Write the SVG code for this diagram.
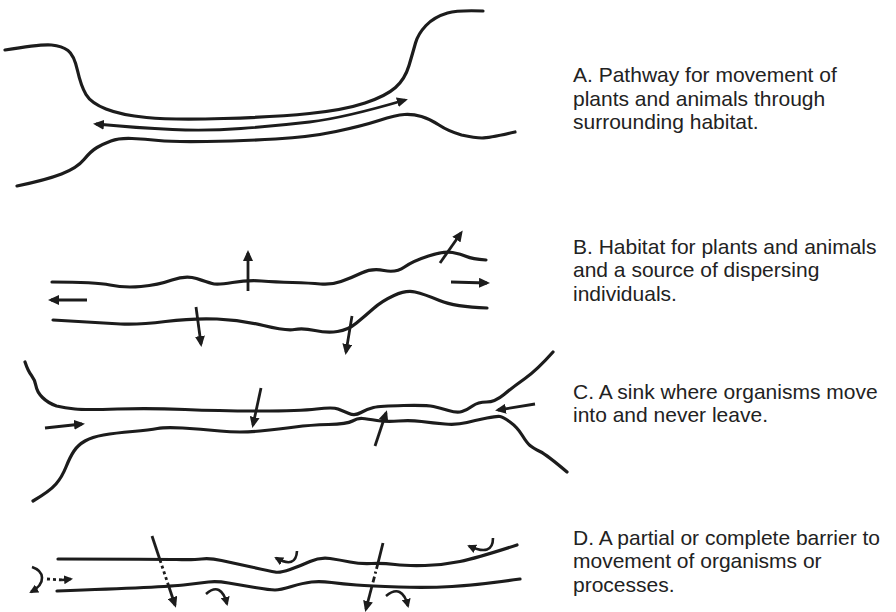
<svg xmlns="http://www.w3.org/2000/svg" width="896" height="612" viewBox="0 0 896 612">
<defs>
<style>
.c{fill:none;stroke:#1c1c1c;stroke-width:3.2;stroke-linecap:round;stroke-linejoin:round}
.a{fill:none;stroke:#1c1c1c;stroke-width:2.8;stroke-linecap:butt;marker-end:url(#h)}
.u{fill:none;stroke:#1c1c1c;stroke-width:2.6;stroke-linecap:butt;marker-end:url(#hs)}
.s{fill:none;stroke:#1c1c1c;stroke-width:2.8;stroke-linecap:butt}
.t{font-family:"Liberation Sans",Arial,sans-serif;font-size:21px;fill:#222}
</style>
<marker id="h" markerUnits="userSpaceOnUse" markerWidth="12" markerHeight="10" refX="8" refY="5" orient="auto-start-reverse"><path d="M0,0 L11,5 L0,10 Z" fill="#1c1c1c"/></marker>
<marker id="hs" markerUnits="userSpaceOnUse" markerWidth="10" markerHeight="9" refX="7" refY="4.5" orient="auto-start-reverse"><path d="M0,0 L9,4.5 L0,9 Z" fill="#1c1c1c"/></marker>
</defs>
<rect width="896" height="612" fill="#fff"/>

<g id="panelA">
<path class="c" d="M 5,50 Q 41,44 51.5,45 Q 62,46 68,50.5 Q 74,55 77.5,70.5 Q 81,86 86,94.5 Q 91,103 106,109 Q 121,115 146.5,117.5 Q 172,120 223.5,118.5 Q 275,117 309.5,113.5 Q 344,110 365,103 Q 386,96 395.5,87.5 Q 405,79 409,65.5 Q 413,52 415.5,43 Q 418,34 426,25.5 Q 434,17 447.5,13 Q 458,10 483,11"/>
<path class="c" d="M 17,186 Q 46,180 61.5,174 Q 77,168 84,159.5 Q 91,151 97,147.5 Q 103,144 111,141 Q 119,138 132,138.5 Q 145,139 158.5,140.5 Q 172,142 206.5,141.5 Q 241,141 275.5,139 Q 310,137 336,131.5 Q 362,126 379,120.5 Q 396,115 404.5,114.5 Q 413,114 421.5,116.5 Q 430,119 439,125 Q 448,131 461.5,135 Q 475,138 482,138 Q 489,138 515,132"/>
</g>

<g id="panelB">
<path class="c" d="M 52,282 Q 96,282 110,285 Q 124,288 141,286.5 Q 158,285 172,280 Q 186,275 196.5,278.5 Q 207,282 212,283.5 Q 217,285 232.5,282.5 Q 248,280 261.5,281 Q 275,282 292.5,282.5 Q 310,283 320.5,284 Q 331,285 341,281.5 Q 351,278 361.5,273 Q 372,268 384,270.5 Q 396,273 404.5,267 Q 413,261 428.5,256 Q 444,251 452.5,252.5 Q 461,254 466.5,256.5 Q 472,259 486,260"/>
<path class="c" d="M 53,320 Q 103,323 120.5,324 Q 138,325 165.5,321.5 Q 193,318 217,319 Q 241,320 263.5,325.5 Q 286,331 294.5,329.5 Q 303,328 315,330.5 Q 327,333 337.5,331.5 Q 348,330 356.5,323 Q 365,316 373.5,308.5 Q 382,301 394,295.5 Q 406,290 415,292 Q 424,294 439.5,300.5 Q 455,307 487,308"/>
</g>

<g id="panelC">
<path class="c" d="M 25,362 Q 28,371 31.5,375.5 Q 35,380 36,386 Q 37,392 42.5,397.5 Q 48,403 56.5,406 Q 65,408 75,409 Q 85,410 117.5,409 Q 150,408 185,409.5 Q 220,411 260,411 Q 300,411 316.5,409 Q 333,407 338,409 Q 343,411 349,413.5 Q 355,416 361,412.5 Q 367,409 373.5,407.5 Q 380,406 403.5,405.5 Q 427,405 433.5,406.5 Q 440,408 448.5,410.5 Q 457,413 462,411.5 Q 467,410 472.5,406 Q 478,402 486.5,402 Q 495,402 504,394.5 Q 513,387 525,378.5 Q 537,370 553,352"/>
<path class="c" d="M 33,501 Q 50,491 56,484 Q 62,477 66,467 Q 70,457 74,451 Q 78,445 85,441 Q 92,437 103.5,435 Q 115,433 132.5,431.5 Q 150,430 157.5,428.5 Q 165,427 182.5,428 Q 200,429 220,431 Q 240,433 260,431 Q 280,429 295,427 Q 310,425 328.5,424.5 Q 347,424 352.5,421 Q 358,418 362.5,418.5 Q 367,419 377,420.5 Q 387,422 398.5,421 Q 410,420 421.5,421.5 Q 433,423 445,424 Q 457,425 467,422.5 Q 477,420 487,418 Q 497,416 500,416.5 Q 503,417 510,422 Q 517,427 522,435 Q 527,443 530,445.5 Q 533,448 540,451.5 Q 547,455 567,472"/>
</g>

<g id="panelD">
<path class="c" d="M 58,559 Q 160,559 176.5,559.5 Q 193,560 201.5,559 Q 210,558 221.5,560.5 Q 233,563 251.5,567 Q 270,571 275,572 Q 280,573 290,569.5 Q 300,566 310,561.5 Q 320,557 330,558.5 Q 340,560 350,562 Q 360,564 371.5,563.5 Q 383,563 395,564.5 Q 407,566 425,565.5 Q 443,565 460,561.5 Q 477,558 517,545"/>
<path class="c" d="M 57,591 Q 167,587 183.5,585 Q 200,583 208.5,582 Q 217,581 228.5,583 Q 240,585 255,587.5 Q 270,590 275,590 Q 280,590 291.5,586.5 Q 303,583 311.5,582 Q 320,581 331.5,582.5 Q 343,584 356.5,585 Q 370,586 398.5,587 Q 427,588 452,586.5 Q 477,585 520,579"/>
</g>

<g id="connectors">
<path class="a" style="marker-start:url(#h)" d="M 96,124 Q 138,128 172.5,129.5 Q 207,131 241,128.5 Q 275,126 309.5,122 Q 344,118 405,100"/>

<path class="a" d="M 248,291 L 248,253"/>
<path class="a" d="M 440,263 L 461,233"/>
<path class="a" d="M 451,282 L 487,283"/>
<path class="a" d="M 87,300 L 51,300"/>
<path class="a" d="M 196,307 L 201,344"/>
<path class="a" d="M 352,316 L 346,352"/>

<path class="a" d="M 261,388 L 253,425"/>
<path class="a" d="M 45,428 L 82,424"/>
<path class="a" d="M 375,446 L 386,413"/>
<path class="a" d="M 535,404 L 498,410"/>

<path class="s" d="M 152,536 L 160,560"/>
<path class="s" stroke-dasharray="3 3" d="M 160,560 L 169,587"/>
<path class="a" d="M 169,587 L 175,605"/>
<path class="s" d="M 383,543 L 378,563"/>
<path class="s" stroke-dasharray="6 3 2 3" d="M 378,563 L 372,586"/>
<path class="a" d="M 372,586 L 366,609"/>

<path class="u" d="M 32,567 C 44,571 47,583 31,592"/>
<path class="s" stroke-dasharray="3 3" d="M 47,579 L 63,580"/>
<path class="u" d="M 62,580 L 71,579"/>
<path class="u" d="M 206,594 Q 221,581 227,604"/>
<path class="u" d="M 297,551 Q 296,569 276,558"/>
<path class="u" d="M 386,596 Q 402,583 408,606"/>
<path class="u" d="M 493,538 Q 493,557 469,546"/>
</g>

<g id="labels">
<text class="t" x="573" y="82">A. Pathway for movement of</text>
<text class="t" x="573" y="105.5">plants and animals through</text>
<text class="t" x="573" y="129">surrounding habitat.</text>
<text class="t" x="573" y="253.5">B. Habitat for plants and animals</text>
<text class="t" x="573" y="277">and a source of dispersing</text>
<text class="t" x="573" y="300.5">individuals.</text>
<text class="t" x="573" y="398.5">C. A sink where organisms move</text>
<text class="t" x="573" y="422">into and never leave.</text>
<text class="t" x="573" y="544.5">D. A partial or complete barrier to</text>
<text class="t" x="573" y="568">movement of organisms or</text>
<text class="t" x="573" y="591.5">processes.</text>
</g>
</svg>
